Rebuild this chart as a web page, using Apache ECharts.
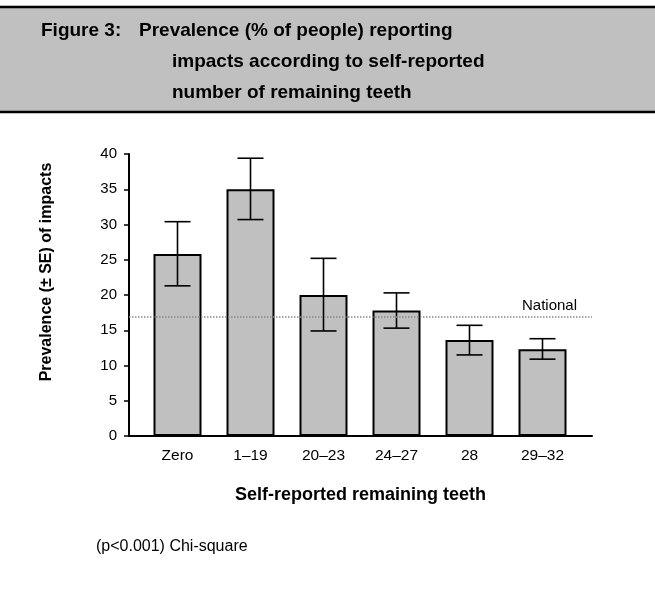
<!DOCTYPE html>
<html>
<head>
<meta charset="utf-8">
<style>
  html, body { margin: 0; padding: 0; background: #fff; }
  #chart { width: 655px; height: 591px; }
</style>
<script src="https://cdn.jsdelivr.net/npm/echarts@6/dist/echarts.min.js"></script>
</head>
<body>
<div id="chart"></div>
<script>
// Tooth-count groups and prevalence of impacts (%), with ± SE limits
const categories = ['Zero', '1–19', '20–23', '24–27', '28', '29–32'];
const prevalence = [25.8, 35.0, 20.0, 17.8, 13.6, 12.3];
const seLower = [21.3, 30.7, 14.9, 15.3, 11.5, 10.9];
const seUpper = [30.4, 39.4, 25.2, 20.3, 15.7, 13.8];
const nationalLevel = 16.9;
const yTicks = [0, 5, 10, 15, 20, 25, 30, 35, 40];

const FONT = '"Liberation Sans", Arial, Helvetica, sans-serif';
const chart = echarts.init(document.getElementById('chart'), null, { renderer: 'canvas' });

const errorData = categories.map((c, i) => [i, seLower[i], seUpper[i]]);

function renderErrorBar(params, api) {
  const lo = api.coord([api.value(0), api.value(1)]);
  const hi = api.coord([api.value(0), api.value(2)]);
  const half = 13;
  const style = { stroke: '#000', lineWidth: 1.6 };
  return {
    type: 'group',
    children: [
      { type: 'line', shape: { x1: hi[0], y1: hi[1], x2: lo[0], y2: lo[1] }, style },
      { type: 'line', shape: { x1: hi[0] - half, y1: hi[1], x2: hi[0] + half, y2: hi[1] }, style },
      { type: 'line', shape: { x1: lo[0] - half, y1: lo[1], x2: lo[0] + half, y2: lo[1] }, style }
    ]
  };
}

const option = {
  animation: false,
  textStyle: { fontFamily: FONT },
  grid: [
    { left: 141, right: 76, top: 154, bottom: 155 },
    { left: 129, right: 63, top: 154, bottom: 155 }
  ],
  xAxis: [
    {
      type: 'category',
      gridIndex: 0,
      data: categories,
      axisLine: { show: false },
      axisTick: { show: false },
      axisLabel: { color: '#000', fontSize: 15.5, margin: 12, fontFamily: FONT }
    },
    {
      type: 'value',
      gridIndex: 1,
      min: 0,
      max: 1,
      axisLine: { show: true, lineStyle: { color: '#000', width: 2 } },
      axisTick: { show: false },
      axisLabel: { show: false },
      splitLine: { show: false }
    }
  ],
  yAxis: [
    {
      type: 'value',
      gridIndex: 0,
      min: yTicks[0],
      max: yTicks[yTicks.length - 1],
      interval: yTicks[1] - yTicks[0],
      offset: 12,
      axisLine: { show: true, lineStyle: { color: '#000', width: 2 } },
      axisTick: { show: true, length: 5, lineStyle: { color: '#000', width: 1.5 } },
      axisLabel: { color: '#000', fontSize: 15, margin: 12, fontFamily: FONT },
      splitLine: { show: false }
    },
    {
      type: 'value',
      gridIndex: 1,
      min: yTicks[0],
      max: yTicks[yTicks.length - 1],
      show: false
    }
  ],
  series: [
    {
      name: 'National',
      type: 'line',
      xAxisIndex: 1,
      yAxisIndex: 1,
      data: [],
      z: 1,
      markLine: {
        silent: true,
        symbol: 'none',
        lineStyle: { color: '#8a8a8a', type: 'dotted', width: 1.5 },
        label: {
          show: true,
          position: 'insideEndTop',
          formatter: 'National',
          color: '#000',
          fontSize: 15,
          fontFamily: FONT,
          distance: [15, 3]
        },
        data: [{ yAxis: nationalLevel }]
      }
    },
    {
      name: 'Prevalence',
      type: 'bar',
      xAxisIndex: 0,
      yAxisIndex: 0,
      data: prevalence,
      barWidth: 48,
      z: 3,
      itemStyle: { color: '#c0c0c0', borderColor: '#000', borderWidth: 2 }
    },
    {
      name: 'SE',
      type: 'custom',
      xAxisIndex: 0,
      yAxisIndex: 0,
      data: errorData,
      renderItem: renderErrorBar,
      z: 4
    }
  ],
  graphic: [
    { type: 'rect', shape: { x: 0, y: 7, width: 655, height: 105 }, style: { fill: '#c0c0c0' }, z: 0 },
    { type: 'line', shape: { x1: 0, y1: 7, x2: 655, y2: 7 }, style: { stroke: '#000', lineWidth: 2.5 } },
    { type: 'line', shape: { x1: 0, y1: 112, x2: 655, y2: 112 }, style: { stroke: '#000', lineWidth: 2.5 } },
    { type: 'text', x: 41, y: 31, style: { text: 'Figure 3:', font: 'bold 19px ' + FONT, fill: '#000', textVerticalAlign: 'middle' } },
    { type: 'text', x: 139, y: 31, style: { text: 'Prevalence (% of people) reporting', font: 'bold 19px ' + FONT, fill: '#000', textVerticalAlign: 'middle' } },
    { type: 'text', x: 172, y: 62, style: { text: 'impacts according to self-reported', font: 'bold 19px ' + FONT, fill: '#000', textVerticalAlign: 'middle' } },
    { type: 'text', x: 172, y: 93, style: { text: 'number of remaining teeth', font: 'bold 19px ' + FONT, fill: '#000', textVerticalAlign: 'middle' } },
    { type: 'text', x: 47, y: 272, rotation: Math.PI / 2, style: { text: 'Prevalence (± SE) of impacts', font: 'bold 16px ' + FONT, fill: '#000', textAlign: 'center', textVerticalAlign: 'middle' } },
    { type: 'text', x: 360.5, y: 495, style: { text: 'Self-reported remaining teeth', font: 'bold 18px ' + FONT, fill: '#000', textAlign: 'center', textVerticalAlign: 'middle' } },
    { type: 'text', x: 96, y: 547, style: { text: '(p<0.001) Chi-square', font: '16px ' + FONT, fill: '#000', textVerticalAlign: 'middle' } }
  ]
};

chart.setOption(option);
</script>
</body>
</html>
